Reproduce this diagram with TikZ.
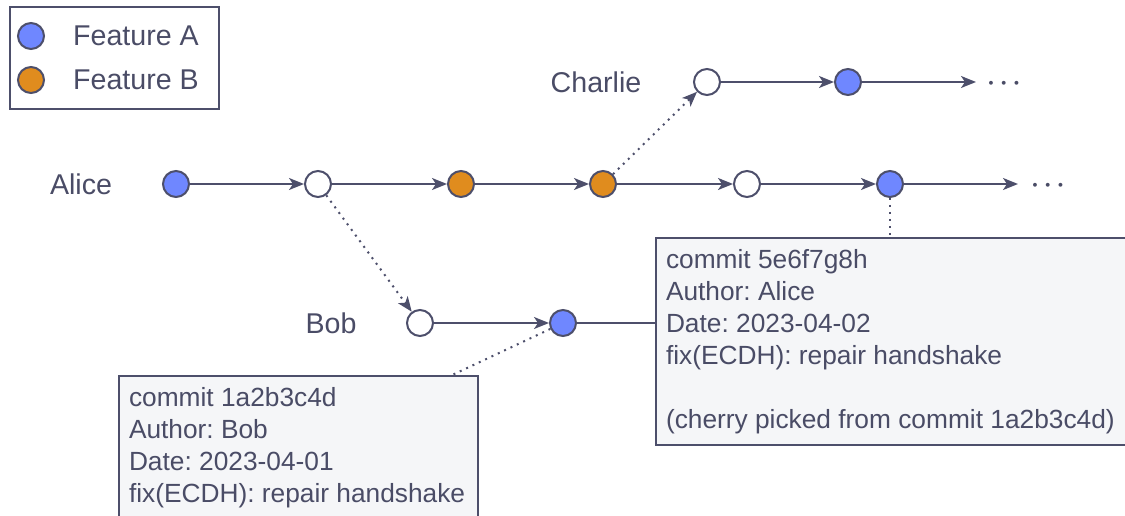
\documentclass[tikz,border=0pt]{standalone}
\usepackage{fontspec}
\setmainfont{Liberation Sans}
\usetikzlibrary{arrows.meta}
\definecolor{ink}{HTML}{4D4F6B}
\definecolor{txt}{HTML}{4A4C66}
\definecolor{fa}{HTML}{6F87FF}
\definecolor{fb}{HTML}{E08C1E}
\definecolor{boxbg}{HTML}{F5F6F8}
\frenchspacing
\begin{document}
\begin{tikzpicture}[x=1pt,y=1pt,
  commit/.style={circle, draw=ink, line width=2pt, minimum size=26pt, inner sep=0pt},
  ca/.style={commit, fill=fa},
  cb/.style={commit, fill=fb},
  cw/.style={commit, fill=white},
  tip/.style={-{Stealth[length=15pt,width=12pt,inset=4pt]}},
  conn/.style={draw=ink, line width=2pt, tip},
  dotline/.style={draw=ink, line width=2pt, dash pattern=on 2pt off 5pt},
  dotarrow/.style={dotline, tip},
  plainline/.style={draw=ink, line width=2pt},
  lbl/.style={text=txt, font=\fontsize{28.6}{34}\selectfont, inner sep=0pt},
  ellip/.style={text=txt, font=\fontsize{28.6}{34}\selectfont\boldmath, inner sep=0pt, anchor=base west},
  info/.style={draw=ink, fill=boxbg, line width=2pt, text=txt,
    font=\fontsize{26.3}{32}\selectfont, align=flush left, inner xsep=10pt,
    inner ysep=11pt, anchor=north west},
  legendbox/.style={draw=ink, line width=2pt, inner sep=0pt, anchor=north west}
]
\useasboundingbox (0,0) rectangle (1125,515);
\clip (0,0) rectangle (1125,515);

% legend
\node[legendbox, minimum width=209pt, minimum height=102pt] (legend) at (9,509) {};
\node[ca] (la) at (31,479) {};
\node[cb] (lb) at (31,435) {};
\node[lbl, anchor=west] (lta) at (73,479) {Feature A};
\node[lbl, anchor=west] (ltb) at (73,435) {Feature B};

% branch labels
\node[lbl] (alice) at (81,331) {Alice};
\node[lbl] (charlie) at (596,433) {Charlie};
\node[lbl] (bob) at (331,192) {Bob};

% Alice
\node[ca] (a1) at (176,331) {};
\node[cw] (a2) at (318,331) {};
\node[cb] (a3) at (461,331) {};
\node[cb] (a4) at (603,331) {};
\node[cw] (a5) at (747,331) {};
\node[ca] (a6) at (890,331) {};
\coordinate (aend) at (1018,331);
\node[ellip] (adots) at (1031,323.8) {$\cdots$};

% Charlie
\node[cw] (c1) at (707,433) {};
\node[ca] (c2) at (848,433) {};
\coordinate (cend) at (976,433);
\node[ellip] (cdots) at (987,425.8) {$\cdots$};

% Bob
\node[cw] (b1) at (420,192) {};
\node[ca] (b2) at (563,192) {};

% info boxes
\node[info, text width=339pt] (lbox) at (118,140) {commit 1a2b3c4d\\Author: Bob\\Date: 2023-04-01\\fix(ECDH): repair handshake};
\node[info, text width=480pt] (rbox) at (655,278) {commit 5e6f7g8h\\Author: Alice\\Date: 2023-04-02\\fix(ECDH): repair handshake\\[32pt](cherry picked from commit 1a2b3c4d)};

% connectors
\draw[conn] (a1) -- (a2);
\draw[conn] (a2) -- (a3);
\draw[conn] (a3) -- (a4);
\draw[conn] (a4) -- (a5);
\draw[conn] (a5) -- (a6);
\draw[conn] (a6) -- (aend);
\draw[conn] (c1) -- (c2);
\draw[conn] (c2) -- (cend);
\draw[conn] (b1) -- (b2);
\draw[dotarrow] (a2) -- (b1);
\draw[dotarrow] (a4) -- (c1);
\draw[plainline] (b2) -- (b2 -| rbox.west);
\draw[dotline] (b2) -- (lbox);
\draw[dotline] (a6) -- (a6 |- rbox.north);
\end{tikzpicture}
\end{document}
